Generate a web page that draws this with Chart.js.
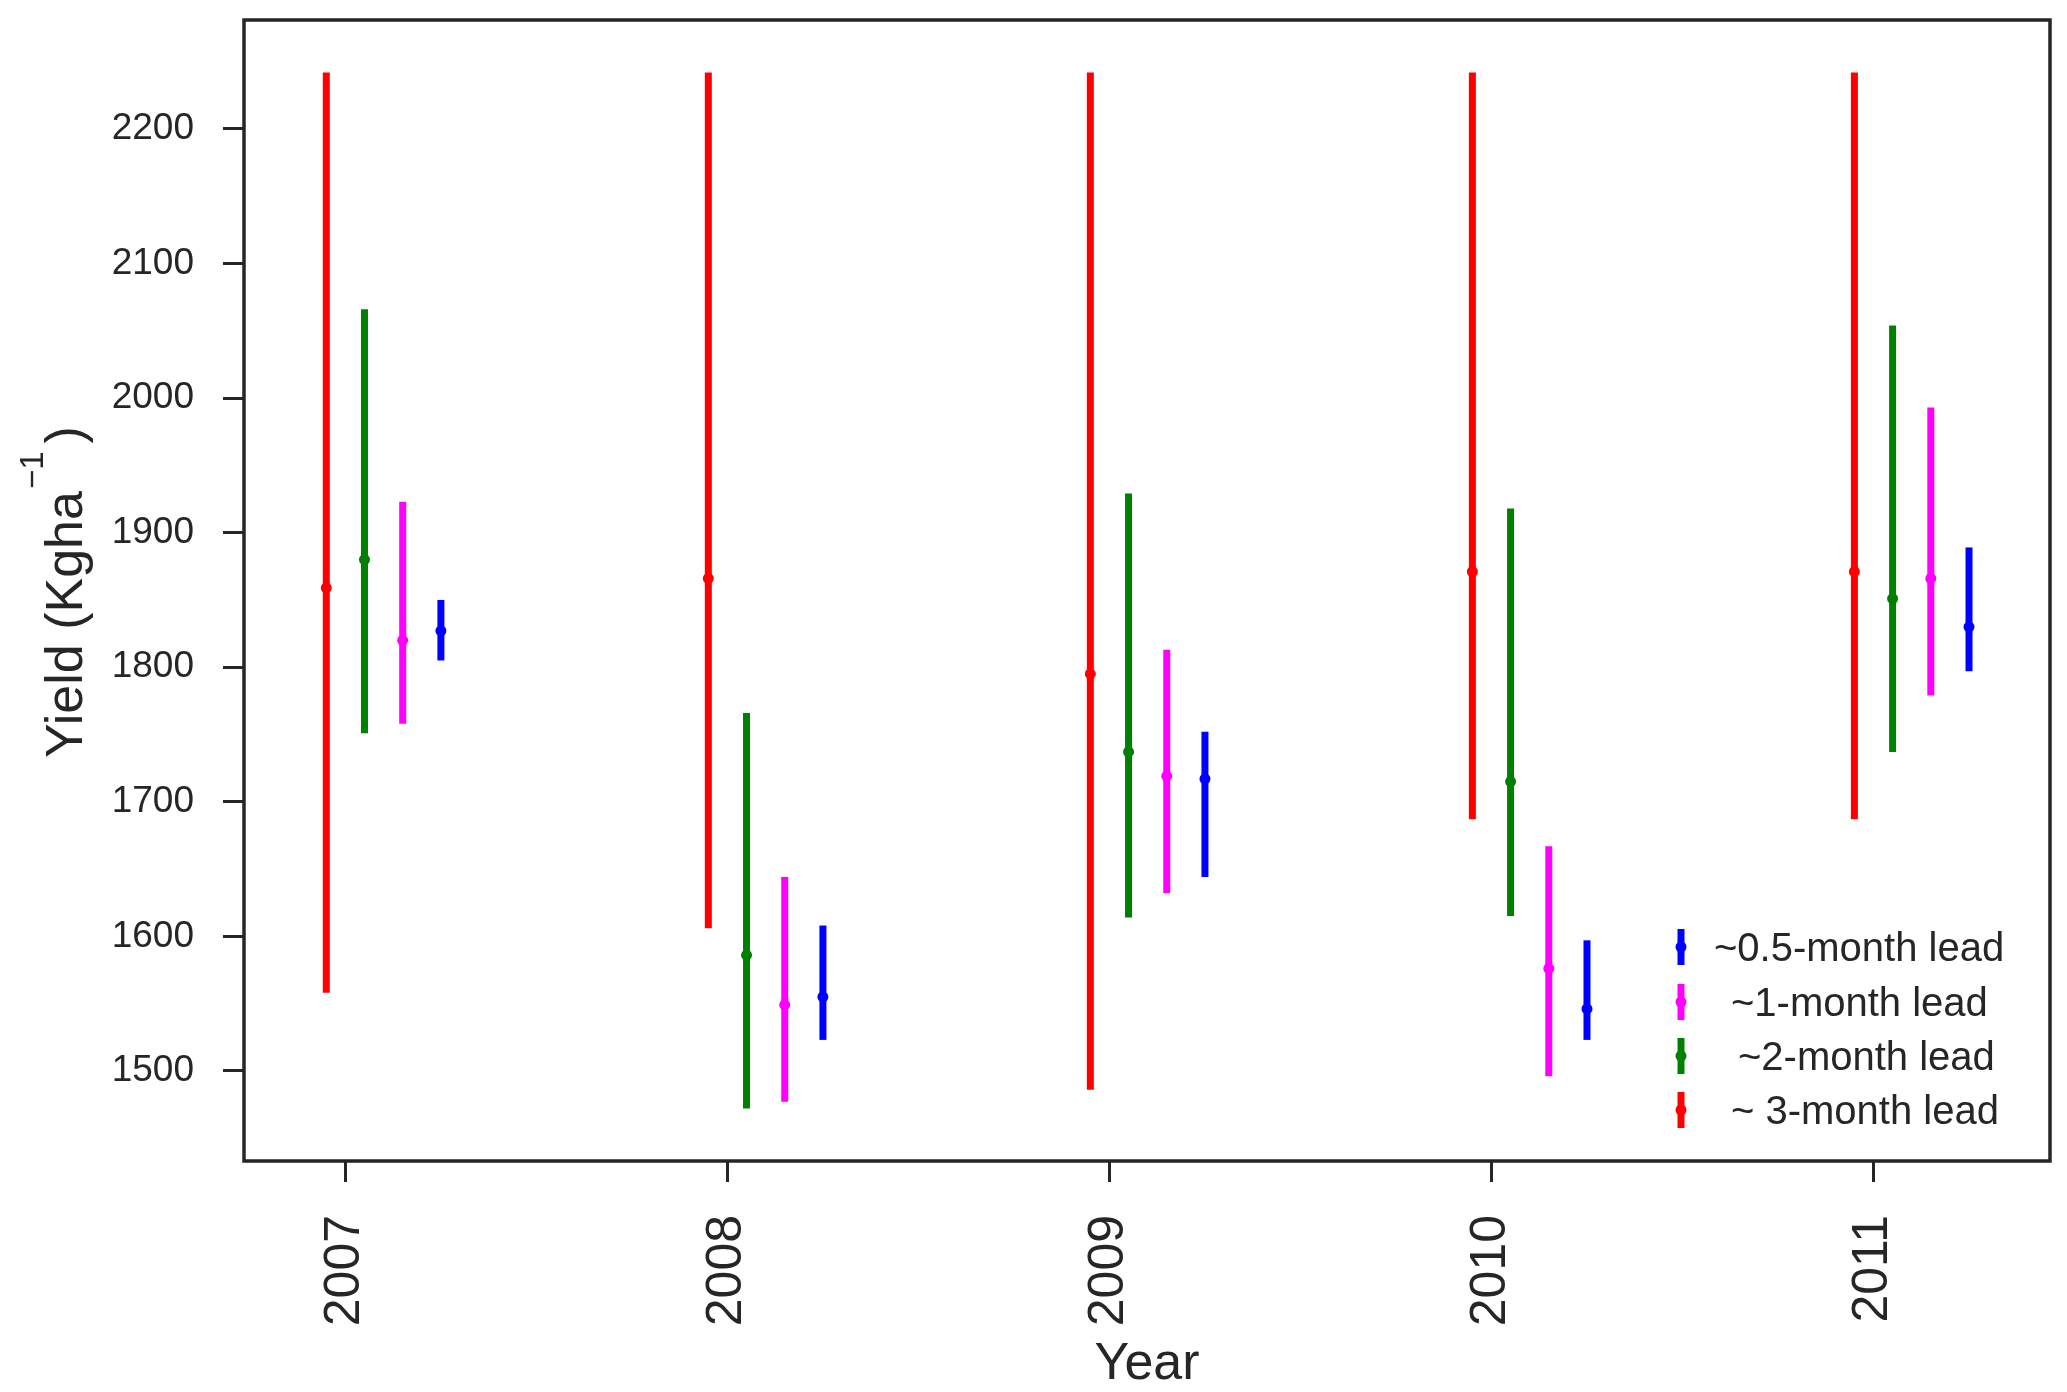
<!DOCTYPE html>
<html lang="en">
<head>
<meta charset="UTF-8">
<title>Yield by forecast lead</title>
<script src="https://cdn.jsdelivr.net/npm/chart.js@4"></script>
<style>
  html, body { margin: 0; padding: 0; background: #fff; }
  #wrap { width: 2067px; height: 1392px; }
</style>
</head>
<body>
<div id="wrap"><canvas id="yieldChart" width="2067" height="1392"></canvas></div>
<script>
// years on the x axis and the y tick values
const years = [2007, 2008, 2009, 2010, 2011];
const yTickValues = [1500, 1600, 1700, 1800, 1900, 2000, 2100, 2200];

// one entry per forecast lead (drawing order: red, green, magenta, blue)
const seriesLabels = ["~ 3-month lead", "~2-month lead", "~1-month lead", "~0.5-month lead"];
const seriesColors = ["#ff0000", "#008000", "#ff00ff", "#0000ff"];

// mean and range of the yield forecast, per year
const lead3Mid  = [1859, 1866, 1795, 1871, 1871];
const lead3Low  = [1558, 1606, 1486, 1687, 1687];
const lead3High = [2242, 2242, 2242, 2242, 2242];

const lead2Mid  = [1880, 1586, 1737, 1715, 1851];
const lead2Low  = [1751, 1472, 1614, 1615, 1737];
const lead2High = [2066, 1766, 1929, 1918, 2054];

const lead1Mid  = [1820, 1549, 1719, 1576, 1866];
const lead1Low  = [1758, 1477, 1632, 1496, 1779];
const lead1High = [1923, 1644, 1813, 1667, 1993];

const lead05Mid  = [1827, 1555, 1717, 1546, 1830];
const lead05Low  = [1805, 1523, 1644, 1523, 1797];
const lead05High = [1850, 1608, 1752, 1597, 1889];

// small side shift so the four leads don't sit on top of each other
const dodge = [-0.05, 0.05, 0.15, 0.25];

const allMid  = [lead3Mid, lead2Mid, lead1Mid, lead05Mid];
const allLow  = [lead3Low, lead2Low, lead1Low, lead05Low];
const allHigh = [lead3High, lead2High, lead1High, lead05High];

const ink = "#262626";
const fontFamily = '"Liberation Sans", Arial, sans-serif';

const datasets = seriesLabels.map((label, s) => ({
  label: label,
  data: years.map((yr, i) => ({ x: yr + dodge[s], y: allMid[s][i], low: allLow[s][i], high: allHigh[s][i] })),
  backgroundColor: seriesColors[s],
  borderColor: seriesColors[s],
  pointRadius: 5.5,
  pointBorderWidth: 0,
  pointHoverRadius: 5.5,
  showLine: false
}));

// vertical range bars, drawn under the points
const errorBars = {
  id: "errorBars",
  beforeDatasetsDraw(chart) {
    const ctx = chart.ctx;
    const yScale = chart.scales.y;
    ctx.save();
    chart.data.datasets.forEach((ds, s) => {
      const meta = chart.getDatasetMeta(s);
      ctx.strokeStyle = ds.borderColor;
      ctx.lineWidth = 7;
      ctx.lineCap = "butt";
      meta.data.forEach((pt, i) => {
        const raw = ds.data[i];
        ctx.beginPath();
        ctx.moveTo(pt.x, yScale.getPixelForValue(raw.low));
        ctx.lineTo(pt.x, yScale.getPixelForValue(raw.high));
        ctx.stroke();
      });
    });
    ctx.restore();
  }
};

// box around the plot, axis titles and the legend
const decorations = {
  id: "decorations",
  afterDraw(chart) {
    const ctx = chart.ctx;
    const a = chart.chartArea;
    ctx.save();
    ctx.strokeStyle = ink;
    ctx.lineWidth = 3.5;
    ctx.strokeRect(a.left, a.top, a.right - a.left, a.bottom - a.top);

    ctx.fillStyle = ink;
    ctx.textBaseline = "alphabetic";
    ctx.textAlign = "center";
    ctx.font = "52px " + fontFamily;
    ctx.fillText("Year", (a.left + a.right) / 2, 1379);

    // y title with superscript
    ctx.save();
    ctx.translate(82, 758);
    ctx.rotate(-Math.PI / 2);
    ctx.textAlign = "left";
    ctx.font = "52px " + fontFamily;
    const main = "Yield (Kgha";
    ctx.fillText(main, 0, 0);
    const w = ctx.measureText(main).width;
    ctx.font = "33px " + fontFamily;
    const sup = "\u22121";
    ctx.fillText(sup, w + 2, -39);
    const sw = ctx.measureText(sup).width;
    ctx.font = "52px " + fontFamily;
    ctx.fillText(")", w + 2 + sw + 8, 0);
    ctx.restore();

    // legend, top entry is the shortest lead
    const rows = [
      { s: 3, y: 947, tx: 1714 },
      { s: 2, y: 1002, tx: 1731 },
      { s: 1, y: 1056, tx: 1738 },
      { s: 0, y: 1110, tx: 1731 }
    ];
    ctx.textAlign = "left";
    ctx.font = "40px " + fontFamily;
    rows.forEach(r => {
      const c = seriesColors[r.s];
      ctx.strokeStyle = c;
      ctx.lineWidth = 7;
      ctx.beginPath();
      ctx.moveTo(1681, r.y - 18);
      ctx.lineTo(1681, r.y + 18);
      ctx.stroke();
      ctx.fillStyle = c;
      ctx.beginPath();
      ctx.arc(1681, r.y, 5.5, 0, Math.PI * 2);
      ctx.fill();
      ctx.fillStyle = ink;
      ctx.fillText(seriesLabels[r.s], r.tx, r.y + 14);
    });
    ctx.restore();
  }
};

new Chart(document.getElementById("yieldChart"), {
  type: "scatter",
  data: { datasets: datasets },
  plugins: [errorBars, decorations],
  options: {
    responsive: false,
    animation: false,
    devicePixelRatio: 1,
    layout: { padding: { top: 20, right: 17, left: 0, bottom: 0 } },
    plugins: {
      legend: { display: false },
      tooltip: { enabled: false }
    },
    scales: {
      x: {
        type: "linear",
        min: 2006.7346,
        max: 2011.462,
        afterBuildTicks: scale => { scale.ticks = years.map(v => ({ value: v })); },
        afterFit: scale => {
          scale.height = 231;
          scale.paddingLeft = 0;
          scale.paddingRight = 0;
        },
        border: { display: false },
        grid: { display: true, drawOnChartArea: false, drawTicks: true, tickLength: 21, tickWidth: 3, tickColor: ink },
        ticks: {
          autoSkip: false,
          minRotation: 90,
          maxRotation: 90,
          padding: 33,
          color: ink,
          font: { family: fontFamily, size: 50 },
          callback: v => String(v)
        }
      },
      y: {
        min: 1433,
        max: 2281,
        afterBuildTicks: scale => { scale.ticks = yTickValues.map(v => ({ value: v })); },
        afterFit: scale => {
          scale.width = 244;
          scale.paddingTop = 0;
          scale.paddingBottom = 0;
        },
        border: { display: false },
        grid: { display: true, drawOnChartArea: false, drawTicks: true, tickLength: 21, tickWidth: 3, tickColor: ink },
        ticks: {
          padding: 29,
          color: ink,
          font: { family: fontFamily, size: 37 },
          callback: v => String(v)
        }
      }
    }
  }
});
</script>
</body>
</html>
